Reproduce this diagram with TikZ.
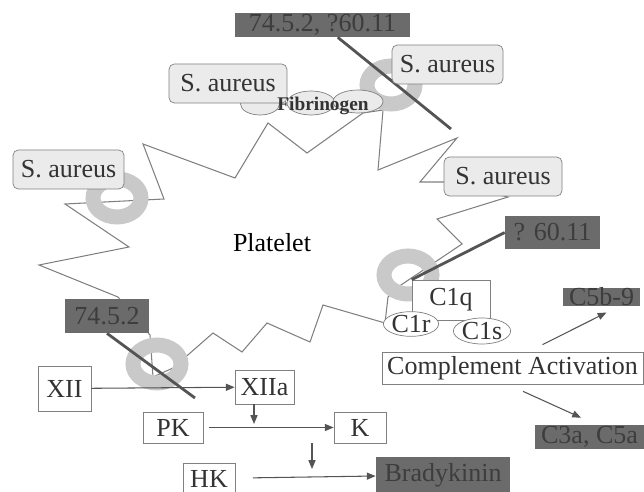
\documentclass[tikz,border=0pt]{standalone}
\usepackage{fontspec}
\setmainfont{Liberation Serif}
\usetikzlibrary{shapes.geometric,arrows.meta}
\definecolor{boxfill}{gray}{0.92}
\definecolor{boxline}{gray}{0.5}
\definecolor{darkfill}{gray}{0.42}
\definecolor{darktext}{gray}{0.24}
\definecolor{ringgray}{gray}{0.79}
\definecolor{linegray}{gray}{0.33}
\definecolor{txt}{gray}{0.2}

\begin{document}
\begin{tikzpicture}[x=0.02cm,y=-0.02cm,
	every node/.style={font=\fontsize{14.8}{17}\selectfont, text=txt, inner sep=0pt},
	aureus/.style={rectangle, rounded corners=3pt, draw=boxline, fill=boxfill, minimum height=0.78cm},
	plain/.style={rectangle, draw=boxline, fill=white},
	dark/.style={rectangle, fill=darkfill, text=darktext},
	sub/.style={ellipse, draw=boxline, fill=white},
	fib/.style={ellipse, draw=boxline, fill=boxfill},
	ring/.style={draw=ringgray, line width=0.3cm},
	hit/.style={draw=linegray, line width=1.6pt},
	>={Triangle[length=5pt,width=4pt]},
	arrow/.style={->, draw=linegray, line width=0.6pt}]
	\useasboundingbox (0,0) rectangle (644,492);

	\draw [boxline, line width=0.6pt] (268,123) -- (307,153) -- (363,113) -- (383,110) -- (378,170) -- (457,138) -- (420,182) -- (446,182) -- (508,197) -- (437,219) -- (462,244) -- (398,287) -- (388,297) -- (385,323) -- (323,305) -- (310,342) -- (267,323) -- (242,352) -- (213,333) -- (173,368) -- (153,377) -- (150,335) -- (118,297) -- (39,265) -- (129,247) -- (65,204) -- (164,199) -- (143,144) -- (235,178) -- cycle;

	\draw [ring] (391,85) ellipse [x radius=0.48cm, y radius=0.38cm];
	\draw [ring] (117,198) ellipse [x radius=0.48cm, y radius=0.38cm];
	\draw [ring] (408,275) ellipse [x radius=0.48cm, y radius=0.38cm];
	\draw [ring] (157,364) ellipse [x radius=0.48cm, y radius=0.38cm];

	\node at (260,104) [fib, minimum width=0.78cm, minimum height=0.44cm] (fib1) {};
	\node at (311,103) [fib, minimum width=0.96cm, minimum height=0.48cm] (fib2) {};
	\node at (358,101.5) [fib, minimum width=1.0cm, minimum height=0.46cm] (fib3) {};

	\node at (322.5,25) [dark, minimum width=3.5cm, minimum height=0.48cm] (top) {74.5.2, ?60.11};
	\node at (228,83.5) [aureus, minimum width=2.36cm] (sa1) {S. aureus};
	\node at (323,106) [font=\bfseries\fontsize{11}{13}\selectfont] (fibtxt) {Fibrinogen};
	\node at (68.5,169.5) [aureus, minimum width=2.22cm] (sa3) {S. aureus};
	\node at (503,176.5) [aureus, minimum width=2.36cm] (sa4) {S. aureus};
	\node at (272,243) [text=black] (plt) {Platelet};

	\coordinate (e1) at (451,129);
	\draw [hit] (top) -- (e1);
	\node at (447.5,64.5) [aureus, minimum width=2.22cm] (sa2) {S. aureus};

	\node at (552.5,232.5) [dark, minimum width=1.9cm, minimum height=0.66cm] (q60) {? 60.11};
	\node at (451,300) [plain, minimum width=1.56cm, minimum height=0.8cm] (c1q) {C1q};
	\draw [hit] (q60.west) -- (c1q.north west);
	\node at (411,324) [sub, minimum width=1.04cm, minimum height=0.48cm] (c1r) {C1r};
	\node at (482,331) [sub, minimum width=1.0cm, minimum height=0.52cm] (c1s) {C1s};

	\node at (512.5,368) [plain, minimum width=5.22cm, minimum height=0.64cm] (compl) {Complement Activation};
	\node at (601.5,297) [dark, minimum width=1.54cm, minimum height=0.36cm] (c5b) {C5b-9};
	\node at (589.5,437) [dark, minimum width=2.18cm, minimum height=0.48cm] (c3a) {C3a, C5a};
	\draw [arrow] ([xshift=0.6cm,yshift=0.14cm]compl.north) -- ([xshift=0.1cm,yshift=-0.12cm]c5b.south);
	\draw [arrow] ([xshift=0.21cm,yshift=-0.14cm]compl.south) -- ([xshift=-0.17cm,yshift=0.14cm]c3a.north);

	\node at (107,316) [dark, minimum width=1.68cm, minimum height=0.68cm] (m1) {74.5.2};
	\node at (64.5,388.5) [plain, minimum width=1.06cm, minimum height=0.9cm] (xii) {XII};
	\node at (264.5,387) [plain, minimum width=1.18cm, minimum height=0.68cm] (xiia) {XIIa};
	\node at (173,427.5) [plain, minimum width=1.2cm, minimum height=0.62cm] (pk) {PK};
	\node at (360,427.5) [plain, minimum width=1.04cm, minimum height=0.62cm] (k) {K};
	\node at (209,478.5) [plain, minimum width=1.04cm, minimum height=0.62cm] (hk) {HK};
	\node at (443,475) [dark, minimum width=2.68cm, minimum height=0.72cm] (brady) {Bradykinin};
	\coordinate (a1) at (254,424);
	\coordinate (a2) at (312,469);
	\coordinate (e2) at (195,398);

	\draw [arrow] (xii) -- (xiia);
	\draw [arrow] (xiia.south -| a1) -- (a1);
	\draw [arrow, shorten <=3pt] (pk) -- (k);
	\draw [arrow] (k.south -| a2) -- (a2);
	\draw [arrow, shorten <=10pt] (hk) -- (brady);
	\draw [hit] (m1.south) -- (e2);
\end{tikzpicture}
\end{document}
